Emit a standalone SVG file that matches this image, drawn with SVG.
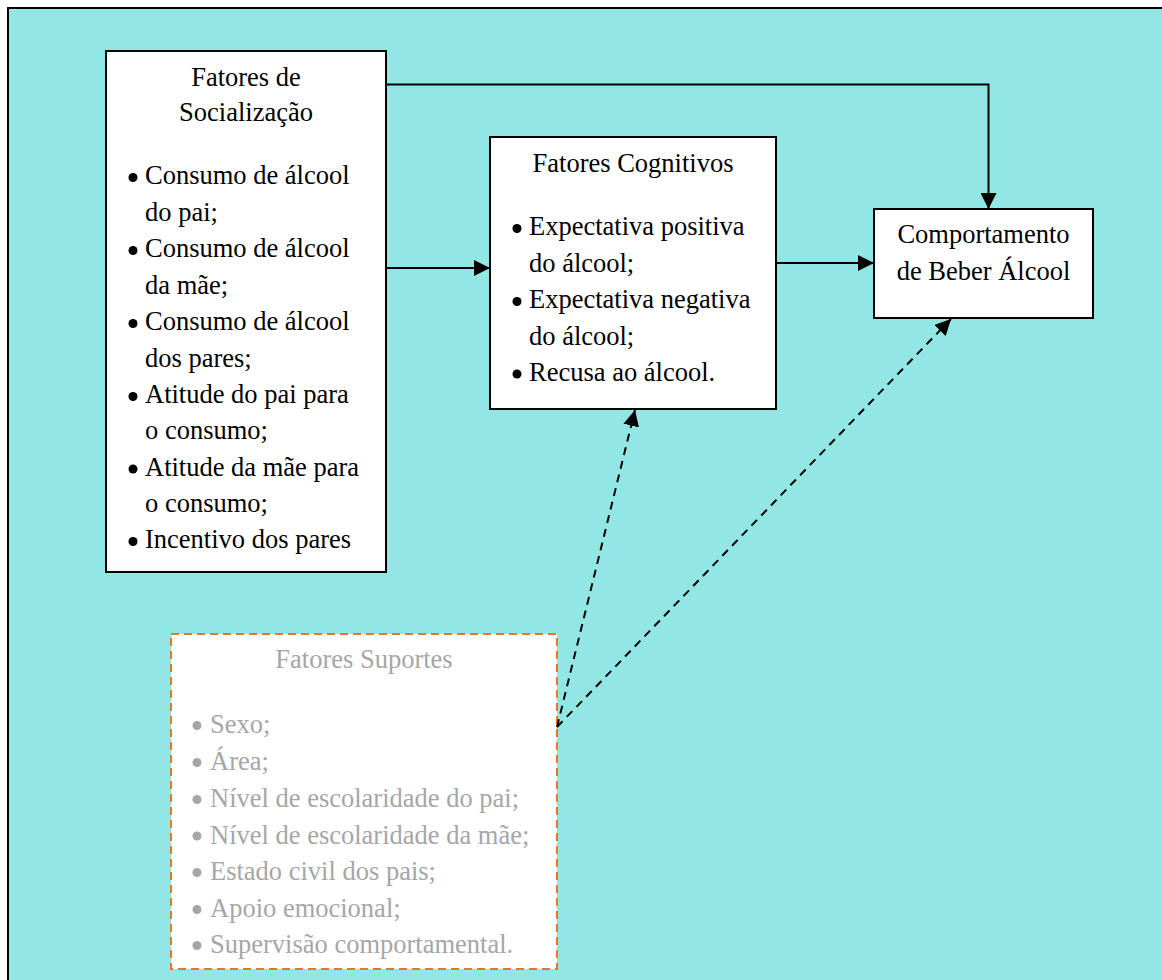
<svg xmlns="http://www.w3.org/2000/svg" width="1162" height="980" viewBox="0 0 1162 980">
<style>
  .box { fill: #ffffff; stroke: #000000; stroke-width: 2; }
  .t { font-family: 'Liberation Serif', 'Times New Roman', Times, 'DejaVu Serif', serif; font-size: 26.5px; fill: #000000; }
  .g { font-family: 'Liberation Serif', 'Times New Roman', Times, 'DejaVu Serif', serif; font-size: 26.5px; fill: #A6A6A6; }
  .c { text-anchor: middle; }
  .bk { fill: #000000; }
  .bg { fill: #A6A6A6; }
  .solid { fill: none; stroke: #000000; stroke-width: 2; }
  .dash { fill: none; stroke: #000000; stroke-width: 2; stroke-dasharray: 8 6; }
</style>
<defs>
  <marker id="ah" viewBox="0 0 16 16" refX="16" refY="8" markerWidth="16" markerHeight="16" markerUnits="userSpaceOnUse" orient="auto">
    <path d="M0,0 L16,8 L0,16 Z" fill="#000000"/>
  </marker>
</defs>
<rect x="0" y="0" width="1162" height="980" fill="#ffffff"/>
<rect id="frame" x="8" y="8" width="1170" height="990" fill="#92E6E4" stroke="#000000" stroke-width="2"/>

<g id="socializacao">
  <rect class="box" x="106" y="51" width="280" height="521"/>
  <text class="t c" x="246" y="86">Fatores de</text>
  <text class="t c" x="246" y="121">Socialização</text>
  <circle class="bk" cx="133" cy="177.5" r="4.5"/><text class="t" x="145" y="184">Consumo de álcool</text>
  <text class="t" x="145" y="220.5">do pai;</text>
  <circle class="bk" cx="133" cy="250.5" r="4.5"/><text class="t" x="145" y="257">Consumo de álcool</text>
  <text class="t" x="145" y="293.5">da mãe;</text>
  <circle class="bk" cx="133" cy="323.5" r="4.5"/><text class="t" x="145" y="330">Consumo de álcool</text>
  <text class="t" x="145" y="366.5">dos pares;</text>
  <circle class="bk" cx="133" cy="396.5" r="4.5"/><text class="t" x="145" y="403">Atitude do pai para</text>
  <text class="t" x="145" y="439">o consumo;</text>
  <circle class="bk" cx="133" cy="469" r="4.5"/><text class="t" x="145" y="475.5">Atitude da mãe para</text>
  <text class="t" x="145" y="511.5">o consumo;</text>
  <circle class="bk" cx="133" cy="541.5" r="4.5"/><text class="t" x="145" y="548">Incentivo dos pares</text>
</g>

<g id="cognitivos">
  <rect class="box" x="490" y="137" width="286" height="272"/>
  <text class="t c" x="633" y="172">Fatores Cognitivos</text>
  <circle class="bk" cx="517" cy="228.5" r="4.5"/><text class="t" x="529" y="235">Expectativa positiva</text>
  <text class="t" x="529" y="271.5">do álcool;</text>
  <circle class="bk" cx="517" cy="301.5" r="4.5"/><text class="t" x="529" y="308">Expectativa negativa</text>
  <text class="t" x="529" y="344.5">do álcool;</text>
  <circle class="bk" cx="517" cy="374" r="4.5"/><text class="t" x="529" y="380.5">Recusa ao álcool.</text>
</g>

<g id="comportamento">
  <rect class="box" x="874" y="209" width="219" height="109"/>
  <text class="t c" x="983.5" y="243">Comportamento</text>
  <text class="t c" x="983.5" y="280">de Beber Álcool</text>
</g>

<g id="suportes">
  <rect x="171" y="634" width="386" height="335" fill="#ffffff" stroke="#E87722" stroke-width="2" stroke-dasharray="8 5"/>
  <text class="g c" x="364" y="668">Fatores Suportes</text>
  <circle class="bg" cx="197" cy="725.5" r="4.5"/><text class="g" x="210" y="733">Sexo;</text>
  <circle class="bg" cx="197" cy="762.5" r="4.5"/><text class="g" x="210" y="770">Área;</text>
  <circle class="bg" cx="197" cy="799.5" r="4.5"/><text class="g" x="210" y="807">Nível de escolaridade do pai;</text>
  <circle class="bg" cx="197" cy="836" r="4.5"/><text class="g" x="210" y="843.5">Nível de escolaridade da mãe;</text>
  <circle class="bg" cx="197" cy="872.5" r="4.5"/><text class="g" x="210" y="880">Estado civil dos pais;</text>
  <circle class="bg" cx="197" cy="909.5" r="4.5"/><text class="g" x="210" y="917">Apoio emocional;</text>
  <circle class="bg" cx="197" cy="945.5" r="4.5"/><text class="g" x="210" y="953">Supervisão comportamental.</text>
</g>

<g id="connectors">
  <path class="solid" d="M386,84.5 L988.5,84.5 L988.5,209" marker-end="url(#ah)"/>
  <path class="solid" d="M386,268 L490,268" marker-end="url(#ah)"/>
  <path class="solid" d="M776,263 L874,263" marker-end="url(#ah)"/>
  <path class="dash" d="M557,727 L635,410" marker-end="url(#ah)"/>
  <path class="dash" d="M557,727 L951,319" marker-end="url(#ah)"/>
</g>
</svg>
